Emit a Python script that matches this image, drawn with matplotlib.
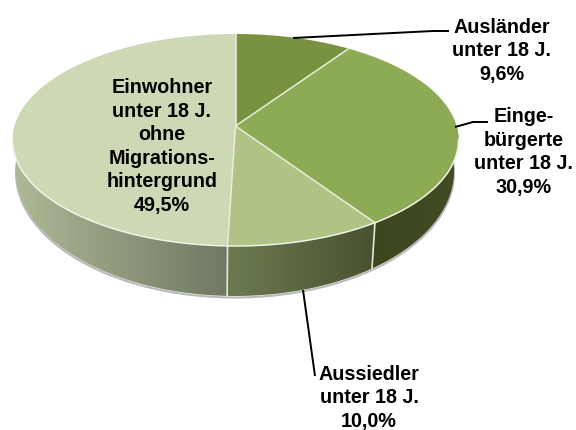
import numpy as np
import matplotlib
matplotlib.use('Agg')
import matplotlib.pyplot as plt
from matplotlib.colors import to_rgb
from matplotlib.patches import Polygon

plt.rcParams['font.family'] = ['Liberation Sans', 'DejaVu Sans']

# shares clockwise from 12 o'clock
labels = ['Ausländer\nunter 18 J.\n9,6%',
          'Einge-\nbürgerte\nunter 18 J.\n30,9%',
          'Aussiedler\nunter 18 J.\n10,0%',
          'Einwohner\nunter 18 J.\nohne\nMigrations-\nhintergrund\n49,5%']
values = [9.6, 30.9, 10.0, 49.5]
top_colors = ['#79923f', '#8dab54', '#aec384', '#cdd8b4']
# side colours, left to right in each slice
side_colors = [('#3d4720', '#3d4720'),
               ('#3c4720', '#414c24'),
               ('#6c7a50', '#47522f'),
               ('#aeb996', '#6f7963')]
label_pos = [(502, 51), (524, 152), (369, 398), (162, 146.5)]
leaders = [[(293, 39), (433, 32), (449, 32)],
           [(455, 128), (473, 123), (488, 123)],
           [(303, 291), (315, 377)]]

# pie geometry in pixels of the picture: top face and lower rim
top_ell = (235.5, 141, 223, 106)
low_ell = (235, 172, 219, 125)
persp = 0.132


def project(share, ell=top_ell):
    # share 0-100 on the circle -> pixel on the tilted ellipse
    cx, cy, rx, ry = ell
    a = np.asarray(share) / 100 * 2 * np.pi
    u, v = np.sin(a), np.cos(a)
    w = 1 + persp * v
    x = u * np.sqrt(1 - persp ** 2) / w
    y = (v + persp) / w
    return cx + rx * x, cy - ry * y


fig = plt.figure(figsize=(5.76, 4.31), dpi=100)
ax = fig.add_axes([0, 0, 1, 1])
ax.set_xlim(0, 576)
ax.set_ylim(431, 0)
ax.axis('off')

edges = np.concatenate([[0], np.cumsum(values)])
apex_x, apex_y = top_ell[0], top_ell[1] - top_ell[3] * persp

# soft shadow under the rim
s = np.linspace(25, 75, 200)
sx, sy = project(s, low_ell)
ax.plot(sx, sy + 1.5, color='#b9b9b9', lw=1.5, zorder=1)

# side wall, one gradient image per slice clipped to the wall shape
for i in range(len(values)):
    lo, hi = max(edges[i], 25), min(edges[i + 1], 75)
    if hi <= lo:
        continue
    s = np.linspace(lo, hi, 100)
    x0, y0 = project(s)
    x1, y1 = project(s, low_ell)
    xs = np.r_[x0, x1[::-1]]
    ys = np.r_[y0, y1[::-1]]
    c0, c1 = np.array(to_rgb(side_colors[i][0])), np.array(to_rgb(side_colors[i][1]))
    ramp = np.linspace(0, 1, 128)[:, None]
    grad = (c0 * (1 - ramp) + c1 * ramp)[None, :, :]
    im = ax.imshow(grad, extent=[xs.min(), xs.max(), ys.max(), ys.min()],
                   aspect='auto', interpolation='bilinear', zorder=2)
    poly = Polygon(np.c_[xs, ys], closed=True, transform=ax.transData)
    im.set_clip_path(poly)
ax.set_xlim(0, 576)
ax.set_ylim(431, 0)

# light seams on the wall
for e in edges:
    if 25 < e < 75:
        x0, y0 = project(e)
        x1, y1 = project(e, low_ell)
        ax.plot([x0, x1], [y0, y1], color='#e4e8d8', lw=1.2, zorder=3)

# top faces
for i in range(len(values)):
    s = np.linspace(edges[i], edges[i + 1], 200)
    x, y = project(s)
    ax.fill(np.r_[apex_x, x], np.r_[apex_y, y], facecolor=top_colors[i],
            edgecolor='none', zorder=4)

# thin light lines between the slices and on the front rim
for e in edges[:-1]:
    x, y = project(e)
    ax.plot([apex_x, x], [apex_y, y], color='#e9eddd', lw=1.1, zorder=5)
s = np.linspace(27, 73, 300)
x, y = project(s)
ax.plot(x, y, color='#f0f3e8', lw=1.1, zorder=5)

for pts in leaders:
    ax.plot([p[0] for p in pts], [p[1] for p in pts], color='black', lw=1.4,
            solid_capstyle='butt', zorder=6)

for lab, (tx, ty) in zip(labels, label_pos):
    ax.text(tx, ty, lab, ha='center', va='center', fontsize=14.2,
            fontweight='bold', color='black', linespacing=1.31, zorder=7)

fig.savefig('out.png', dpi=100)
